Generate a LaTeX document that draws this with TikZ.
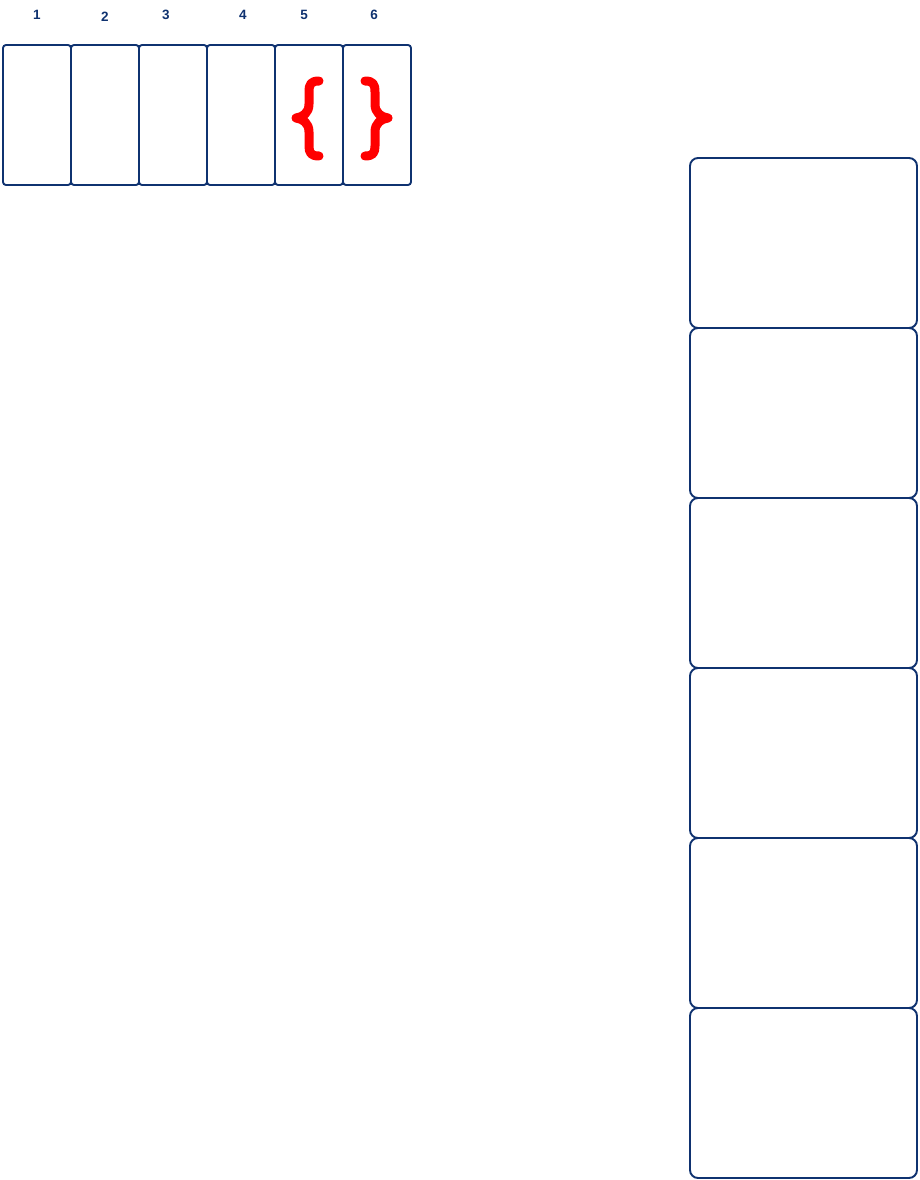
\documentclass[tikz,border=0pt]{standalone}
\usepackage{fontspec}
\setmainfont{Liberation Sans}
\definecolor{ink}{HTML}{0F3270}
\definecolor{brace}{HTML}{FF0000}
\begin{document}
\begin{tikzpicture}[x=1pt,y=-1pt,
  cell/.style={draw=ink, line width=1.9pt, rounded corners=3pt, minimum width=68pt, minimum height=140pt, inner sep=0pt, outer sep=0pt},
  panel/.style={draw=ink, line width=1.9pt, rounded corners=8pt, minimum width=227pt, minimum height=170pt, inner sep=0pt, outer sep=0pt},
  num/.style={text=ink, font=\fontsize{13.5}{15}\selectfont\bfseries, inner sep=0pt},
  bracestroke/.style={draw=brace, line width=9pt, line cap=round, line join=round}]
\useasboundingbox (0,0) rectangle (920,1180);
% top row of cells
\foreach \i/\x in {1/37,2/105,3/173,4/241,5/309,6/377}{
  \node[cell] (c\i) at (\x,115) {};
}
\node[num] (n1) at (37,15) {1};
\node[num] (n2) at (105,17) {2};
\node[num] (n3) at (166,15) {3};
\node[num] (n4) at (243,15) {4};
\node[num] (n5) at (304,15) {5};
\node[num] (n6) at (374,15) {6};
% braces
\path[bracestroke] (319,81) .. controls (311,81) and (309,84) .. (309,92)
  -- (309,104) .. controls (309,113) and (303,117) .. (296,118)
  .. controls (303,119) and (309,123) .. (309,132)
  -- (309,146) .. controls (309,153) and (311,156) .. (319,156);
\path[bracestroke] (365,81) .. controls (373,81) and (375,84) .. (375,92)
  -- (375,104) .. controls (375,113) and (381,117) .. (388,118)
  .. controls (381,119) and (375,123) .. (375,132)
  -- (375,146) .. controls (375,153) and (373,156) .. (365,156);
% right column of panels
\foreach \i/\y in {1/243,2/413,3/583,4/753,5/923,6/1093}{
  \node[panel] (r\i) at (803.5,\y) {};
}
\end{tikzpicture}
\end{document}
